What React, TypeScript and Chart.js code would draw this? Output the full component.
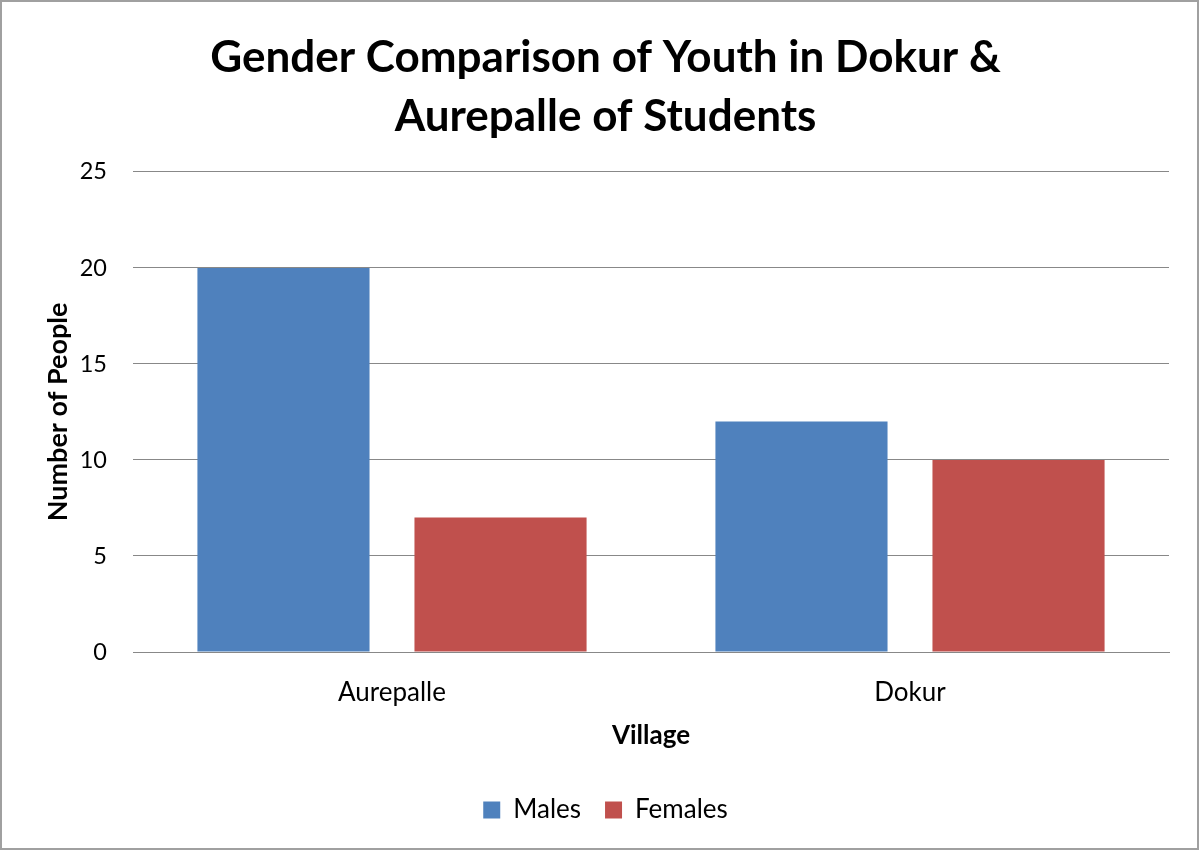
import React, { useEffect, useRef } from 'react';
import { Chart, registerables } from 'chart.js';

Chart.register(...registerables);

const categories = ['Aurepalle', 'Dokur'];
const males = [20, 12];
const females = [7, 10];
const seriesNames = ['Males', 'Females'];
const titleLines = ['Gender Comparison of Youth in Dokur &', 'Aurepalle of Students'];
const yTitle = 'Number of People';
const xTitle = 'Village';

const FONT = 'Lato, "Open Sans", sans-serif';

export default function App() {
  const ref = useRef<HTMLCanvasElement | null>(null);

  useEffect(() => {
    document.body.style.margin = '0';
    const canvas = ref.current;
    if (!canvas) return;
    const chart = new Chart(canvas, {
      type: 'bar',
      data: {
        labels: categories,
        datasets: [
          {
            label: seriesNames[0],
            data: males,
            backgroundColor: '#4F81BD',
            categoryPercentage: 0.838,
            barPercentage: 0.793,
          },
          {
            label: seriesNames[1],
            data: females,
            backgroundColor: '#C0504D',
            categoryPercentage: 0.838,
            barPercentage: 0.793,
          },
        ],
      },
      options: {
        responsive: false,
        animation: false,
        layout: { padding: { left: 40, right: 28, top: 20, bottom: 15 } },
        plugins: {
          title: {
            display: true,
            text: titleLines,
            color: '#000',
            font: { family: FONT, size: 44, weight: 'bold', lineHeight: 1.34 },
            padding: { top: 6, bottom: 26 },
          },
          legend: {
            position: 'bottom',
            labels: {
              color: '#000',
              font: { family: FONT, size: 26 },
              boxWidth: 17,
              boxHeight: 17,
              padding: 24,
            },
          },
          tooltip: { enabled: false },
        },
        scales: {
          x: {
            afterFit: (scale: any) => {
              scale.height = 121;
            },
            grid: { display: false, drawTicks: false },
            border: { display: true, color: '#888888', width: 1 },
            ticks: { color: '#000', font: { family: FONT, size: 26 }, padding: 25 },
            title: {
              display: true,
              text: xTitle,
              color: '#000',
              font: { family: FONT, size: 26, weight: 'bold' },
              padding: { top: 0, bottom: 22 },
            },
          },
          y: {
            afterFit: (scale: any) => {
              scale.width = 91;
            },
            min: 0,
            max: 25,
            ticks: { stepSize: 5, color: '#000', font: { family: FONT, size: 23.5 }, padding: 26 },
            grid: { color: '#888888', drawTicks: false },
            border: { display: false },
            title: {
              display: true,
              text: yTitle,
              color: '#000',
              font: { family: FONT, size: 27, weight: 'bold' },
              padding: { top: 0, bottom: 0 },
            },
          },
        },
      },
    });
    return () => chart.destroy();
  }, []);

  return (
    <div
      style={{
        position: 'absolute',
        left: 0,
        top: 0,
        width: 1199,
        height: 850,
        boxSizing: 'border-box',
        border: '2px solid #a0a0a0',
        background: '#fff',
      }}
    >
      <canvas ref={ref} width={1195} height={846} style={{ display: 'block' }} />
    </div>
  );
}
